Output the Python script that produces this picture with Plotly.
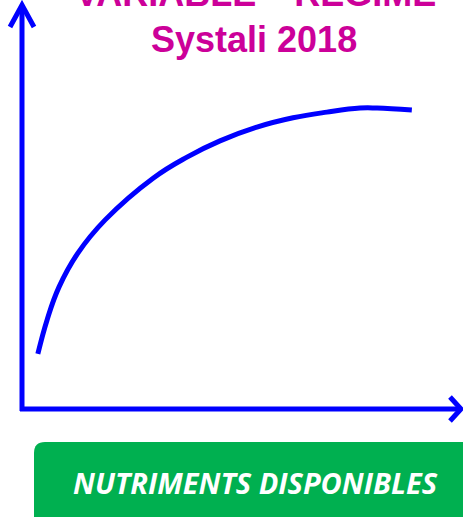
import plotly.graph_objects as go

W, H = 463, 517

# Response curve: production response (y) vs. available nutrients (x), arbitrary units
nutrients = [3.6, 5.7, 8.4, 12.7, 18.9, 29.8, 37.5, 45.0, 53.4, 61.6, 69.3, 76.8, 80.7, 88.6]
response = [13.6, 22.0, 30.1, 38.5, 46.7, 57.0, 62.2, 66.2, 69.6, 71.9, 73.3, 74.3, 74.3, 73.8]

title_line1 = "VARIABLE “ REGIME ”"
title_line2 = "Systali 2018"
x_label = "NUTRIMENTS DISPONIBLES"

BLUE = "#0000FF"
MAGENTA = "#CC0099"
GREEN = "#00B050"

# Pixel geometry of the drawing frame (origin of the arrows and their lengths)
ORIGIN_PX = (22, 409)
X_SCALE = 4.4    # px per x unit
Y_SCALE = 4.05   # px per y unit


def px_x(px):
    return (px - ORIGIN_PX[0]) / X_SCALE


def px_y(py):
    return (ORIGIN_PX[1] - py) / Y_SCALE


def paper_x(px):
    return px / W


def paper_y(py):
    return 1 - py / H


fig = go.Figure()

fig.add_trace(go.Scatter(
    x=nutrients, y=response, mode="lines",
    line=dict(color=BLUE, width=5, shape="spline", smoothing=1.2),
    hoverinfo="skip", showlegend=False,
))

shapes = []
# Vertical arrow
shapes.append(dict(type="line", xref="x", yref="y",
                   x0=0, x1=0, y0=px_y(411), y1=px_y(5),
                   line=dict(color=BLUE, width=5)))
shapes.append(dict(type="path", xref="x", yref="y",
                   path=f"M {px_x(10)},{px_y(27)} L {px_x(22)},{px_y(5)} L {px_x(34)},{px_y(27)}",
                   line=dict(color=BLUE, width=5)))
# Horizontal arrow
shapes.append(dict(type="line", xref="x", yref="y",
                   x0=px_x(20), x1=px_x(461), y0=0, y1=0,
                   line=dict(color=BLUE, width=5)))
shapes.append(dict(type="path", xref="x", yref="y",
                   path=f"M {px_x(450)},{px_y(397)} L {px_x(461)},{px_y(409)} L {px_x(450)},{px_y(421)}",
                   line=dict(color=BLUE, width=5)))

# Green rounded label box
l, t, r, b, rad = 34, 442, 520, 580, 11
box = (f"M {paper_x(l)},{paper_y(t + rad)} "
       f"Q {paper_x(l)},{paper_y(t)} {paper_x(l + rad)},{paper_y(t)} "
       f"L {paper_x(r)},{paper_y(t)} L {paper_x(r)},{paper_y(b)} "
       f"L {paper_x(l)},{paper_y(b)} Z")
shapes.append(dict(type="path", xref="paper", yref="paper", path=box,
                   fillcolor=GREEN, line=dict(width=0), layer="below"))

annotations = [
    dict(text=f"<b>{title_line1}</b>", xref="paper", yref="paper",
         x=paper_x(73), y=paper_y(-6), xanchor="left", yanchor="middle",
         showarrow=False,
         font=dict(family="Liberation Sans, Arial", size=36, color=MAGENTA)),
    dict(text=f"<b>{title_line2}</b>", xref="paper", yref="paper",
         x=paper_x(254), y=paper_y(40), xanchor="center", yanchor="middle",
         showarrow=False,
         font=dict(family="Liberation Sans, Arial", size=36, color=MAGENTA)),
    dict(text=f"<b><i>{x_label}</i></b>", xref="paper", yref="paper",
         x=paper_x(255), y=paper_y(482), xanchor="center", yanchor="middle",
         showarrow=False,
         font=dict(family="Open Sans", size=29, color="white")),
]

fig.update_layout(
    width=W, height=H,
    margin=dict(l=0, r=0, t=0, b=0),
    paper_bgcolor="white", plot_bgcolor="white",
    xaxis=dict(range=[px_x(0), px_x(W)], visible=False, fixedrange=True),
    yaxis=dict(range=[px_y(H), px_y(0)], visible=False, fixedrange=True),
    shapes=shapes, annotations=annotations,
    showlegend=False,
)

fig.write_html("out.html", config={"displayModeBar": False})
